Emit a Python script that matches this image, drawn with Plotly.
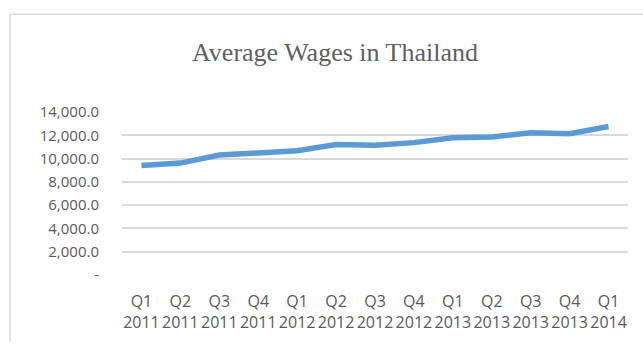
import plotly.graph_objects as go

quarters = ["Q1", "Q2", "Q3", "Q4", "Q1", "Q2", "Q3", "Q4", "Q1", "Q2", "Q3", "Q4", "Q1"]
years = ["2011", "2011", "2011", "2011", "2012", "2012", "2012", "2012",
         "2013", "2013", "2013", "2013", "2014"]
wages = [9400, 9610, 10300, 10450, 10670, 11200, 11150, 11370,
         11790, 11850, 12210, 12130, 12750]
y_ticks = [0, 2000, 4000, 6000, 8000, 10000, 12000, 14000]
y_ticktext = ["-", "2,000.0", "4,000.0", "6,000.0", "8,000.0", "10,000.0", "12,000.0", "14,000.0"]

x = list(range(len(wages)))
x_labels = [f"{q}<br>{y}" for q, y in zip(quarters, years)]

fig = go.Figure()
fig.add_trace(go.Scatter(
    x=x, y=wages, mode="lines",
    line=dict(color="#5B9BD5", width=5.5),
    hoverinfo="skip", showlegend=False,
))

grey = "#595959"
fig.update_layout(
    width=643, height=345,
    margin=dict(l=122, r=15, t=112, b=68),
    paper_bgcolor="white", plot_bgcolor="white",
    title=dict(text="Average Wages in Thailand",
               font=dict(family="Liberation Serif", size=26, color="#606060"),
               x=0.521, xref="container", xanchor="center",
               y=1 - 52 / 345, yref="container", yanchor="middle"),
    xaxis=dict(range=[-0.5, len(wages) - 0.5], tickmode="array", tickvals=x,
               ticktext=x_labels, tickangle=0, showgrid=False, zeroline=False,
               showline=False, ticks="", ticklabelstandoff=15,
               tickfont=dict(family="Open Sans", size=16, color=grey)),
    yaxis=dict(range=[0, 14000], tickmode="array", tickvals=y_ticks,
               ticktext=y_ticktext, showgrid=True, gridcolor="#d9d9d9", gridwidth=1.5,
               zeroline=False, showline=False, ticks="", ticklabelstandoff=22,
               tickfont=dict(family="Open Sans", size=15, color=grey)),
    shapes=[
        dict(type="line", xref="paper", yref="paper",
             x0=(10 - 122) / 506, x1=(10 - 122) / 506,
             y0=(277 - 345) / 165, y1=1 + (112 - 13) / 165,
             line=dict(color="#d9d9d9", width=1.5)),
        dict(type="line", xref="paper", yref="paper",
             x0=(10 - 122) / 506, x1=(643 - 122) / 506,
             y0=1 + (112 - 13) / 165, y1=1 + (112 - 13) / 165,
             line=dict(color="#d9d9d9", width=1.5)),
    ],
)

fig.write_html("out.html")
